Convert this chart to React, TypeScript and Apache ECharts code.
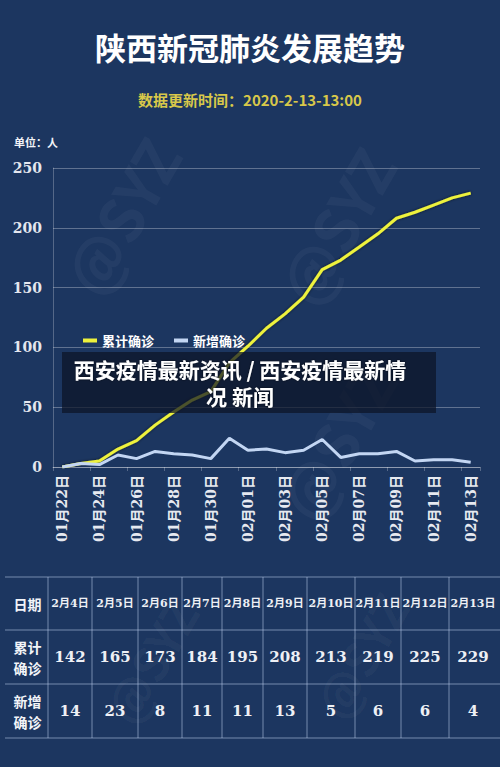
import React, { useEffect, useRef } from "react";
import * as echarts from "echarts";

const dates = [
  "01月22日", "01月23日", "01月24日", "01月25日", "01月26日", "01月27日", "01月28日",
  "01月29日", "01月30日", "01月31日", "02月01日", "02月02日", "02月03日", "02月04日",
  "02月05日", "02月06日", "02月07日", "02月08日", "02月09日", "02月10日", "02月11日",
  "02月12日", "02月13日",
];
const cumulative = [0, 3, 5, 15, 22, 35, 46, 56, 63, 87, 101, 116, 128, 142, 165, 173, 184, 195, 208, 213, 219, 225, 229];
const daily = [0, 3, 2, 10, 7, 13, 11, 10, 7, 24, 14, 15, 12, 14, 23, 8, 11, 11, 13, 5, 6, 6, 4];

const tableDates = ["2月4日", "2月5日", "2月6日", "2月7日", "2月8日", "2月9日", "2月10日", "2月11日", "2月12日", "2月13日"];
const tableCumulative = [142, 165, 173, 184, 195, 208, 213, 219, 225, 229];
const tableDaily = [14, 23, 8, 11, 11, 13, 5, 6, 6, 4];
const rowHeaders = ["日期", "累计\n确诊", "新增\n确诊"];

const legendNames = ["累计确诊", "新增确诊"];
const titleText = "陕西新冠肺炎发展趋势";
const subtitleText = "数据更新时间：2020-2-13-13:00";
const unitText = "单位：人";
const overlayText = "西安疫情最新资讯 / 西安疫情最新情\n况 新闻";

const BG = "#1c3660";
const SERIF = "'DejaVu Serif', 'Liberation Serif', 'Noto Sans CJK SC', serif";
const SANS = "'Noto Sans CJK SC', 'Noto Sans', sans-serif";

export default function App() {
  const ref = useRef<HTMLDivElement>(null);

  useEffect(() => {
    if (!ref.current) return;
    const chart = echarts.init(ref.current, undefined, { renderer: "svg" });

    // table layout
    const colEdges = [5, 48, 92, 138, 182, 222, 263, 307, 355, 401, 449, 497];
    const rowEdges = [577, 630, 684, 738];
    const lineColor = "rgba(190,208,238,0.55)";
    const tableEls: any[] = [];
    rowEdges.forEach((y) => {
      tableEls.push({
        type: "line",
        shape: { x1: colEdges[0], y1: y, x2: 500, y2: y },
        style: { stroke: lineColor, lineWidth: 1 },
      });
    });
    colEdges.slice(1, -1).forEach((x) => {
      tableEls.push({
        type: "line",
        shape: { x1: x, y1: rowEdges[0], x2: x, y2: rowEdges[3] },
        style: { stroke: lineColor, lineWidth: 1 },
      });
    });
    rowHeaders.forEach((t, r) => {
      tableEls.push({
        type: "text",
        x: (colEdges[0] + colEdges[1]) / 2 + 1,
        y: (rowEdges[r] + rowEdges[r + 1]) / 2,
        style: {
          text: t,
          fill: "#f2f4f8",
          font: `bold 14px ${SANS}`,
          align: "center",
          verticalAlign: "middle",
          lineHeight: 21,
        },
      });
    });
    const rows = [tableDates, tableCumulative, tableDaily];
    rows.forEach((vals, r) => {
      vals.forEach((v, c) => {
        tableEls.push({
          type: "text",
          x: (colEdges[c + 1] + colEdges[c + 2]) / 2,
          y: (rowEdges[r] + rowEdges[r + 1]) / 2,
          style: {
            text: String(v),
            fill: "#eef0f5",
            font: r === 0 ? `bold 11px ${SERIF}` : `bold 15px ${SERIF}`,
            align: "center",
            verticalAlign: "middle",
          },
        });
      });
    });

    const watermarks = [
      [120, 215, 60],
      [335, 225, 60],
      [335, 440, 60],
      [150, 660, 48],
      [360, 655, 48],
    ].map(([x, y, s]) => ({
      type: "text",
      x,
      y,
      rotation: Math.PI / 3,
      z: 1,
      style: {
        text: "@SYZ",
        fill: "rgba(255,255,255,0.04)",
        font: `bold ${s}px ${SANS}`,
        align: "center",
        verticalAlign: "middle",
      },
    }));

    chart.setOption({
      animation: false,
      backgroundColor: BG,
      title: [
        {
          text: titleText,
          left: "center",
          top: 26,
          textStyle: { color: "#ffffff", fontSize: 31, fontWeight: "bold", fontFamily: SANS },
        },
        {
          text: subtitleText,
          left: "center",
          top: 87,
          textStyle: { color: "#d8c84a", fontSize: 15, fontWeight: "bold", fontFamily: SANS },
        },
      ],
      legend: {
        data: legendNames,
        left: 78,
        top: 329,
        icon: "rect",
        itemWidth: 14,
        itemHeight: 4,
        itemGap: 20,
        textStyle: { color: "#ffffff", fontSize: 13, fontWeight: "bold", fontFamily: SANS },
      },
      grid: { left: 53, right: 20, top: 168, bottom: 300 },
      xAxis: {
        type: "category",
        data: dates,
        boundaryGap: true,
        axisLine: { show: true, lineStyle: { color: "rgba(255,255,255,0.3)" } },
        axisTick: { show: true, length: 4, lineStyle: { color: "rgba(255,255,255,0.25)" } },
        axisLabel: {
          interval: 1,
          rotate: 90,
          margin: 8,
          color: "#e6e9f0",
          fontSize: 14,
          fontWeight: "bold",
          fontFamily: SERIF,
        },
      },
      yAxis: {
        type: "value",
        min: 0,
        max: 250,
        interval: 50,
        axisLine: { show: true, lineStyle: { color: "rgba(255,255,255,0.25)" } },
        axisTick: { show: false },
        splitLine: { lineStyle: { color: "rgba(255,255,255,0.3)", width: 1 } },
        axisLabel: {
          margin: 11,
          color: "#e3e6ee",
          fontSize: 14,
          fontWeight: "bold",
          fontFamily: SERIF,
        },
      },
      series: [
        {
          name: legendNames[0],
          type: "line",
          data: cumulative,
          symbol: "none",
          itemStyle: { color: "#eef23c" },
          lineStyle: { color: "#eef23c", width: 3, shadowColor: "rgba(0,0,0,0.6)", shadowBlur: 3 },
        },
        {
          name: legendNames[1],
          type: "line",
          data: daily,
          symbol: "none",
          itemStyle: { color: "#c3d6f3" },
          lineStyle: { color: "#c3d6f3", width: 3 },
        },
      ],
      graphic: [
        ...watermarks,
        {
          type: "text",
          left: 14,
          top: 136,
          style: { text: unitText, fill: "#f2f4f8", font: `bold 11px ${SANS}` },
        },
        {
          type: "rect",
          z: 100,
          shape: { x: 62, y: 352, width: 374, height: 61 },
          style: { fill: "rgba(12,20,38,0.72)" },
        },
        {
          type: "text",
          z: 101,
          x: 240,
          y: 382,
          style: {
            text: overlayText,
            fill: "#ffffff",
            font: `bold 21px ${SANS}`,
            align: "center",
            verticalAlign: "middle",
            lineHeight: 27,
            textShadowColor: "rgba(0,0,0,0.6)",
            textShadowBlur: 2,
          },
        },
        ...tableEls,
      ],
    });

    return () => chart.dispose();
  }, []);

  return (
    <div
      ref={ref}
      style={{ position: "fixed", left: 0, top: 0, width: 500, height: 767 }}
    />
  );
}
